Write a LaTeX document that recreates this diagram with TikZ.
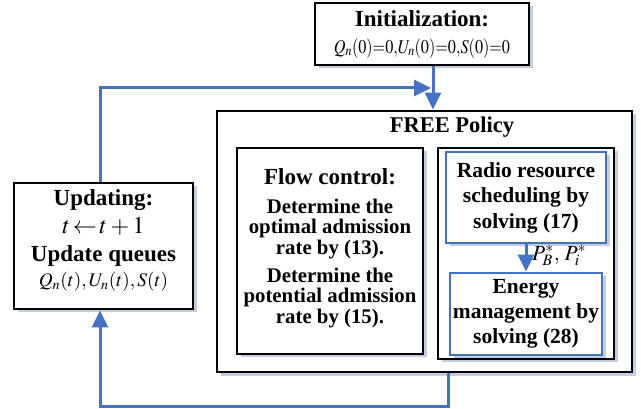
\documentclass[tikz,border=0pt]{standalone}
\usepackage{mathptmx}
\usepackage{fontspec}
\setmainfont{Liberation Serif}
\usetikzlibrary{arrows.meta,shadows}
\definecolor{flowblue}{RGB}{68,114,196}
\definecolor{shadowc}{RGB}{196,204,224}
\begin{document}
\begin{tikzpicture}[x=1pt,y=-1pt,
  shadowed/.style={drop shadow={shadow xshift=3.5pt,shadow yshift=-3.5pt,fill=shadowc,opacity=1}},
  blackbox/.style={draw=black,line width=2.8pt,fill=white,inner sep=0pt,align=center,shadowed},
  bluebox/.style={draw=flowblue,line width=2.8pt,fill=white,inner sep=0pt,align=center,shadowed},
  conn/.style={draw=flowblue,line width=3pt,-{Triangle[width=16pt,length=17pt]}},
  headfont/.style={font=\bfseries\fontsize{23}{28}\selectfont},
]
\useasboundingbox (0,0) rectangle (641,409);

% Initialization
\node[blackbox,headfont,minimum width=214pt,minimum height=62pt] (init) at (422,34)
  {Initialization:\\[-1pt]{\fontsize{19.5}{24}\selectfont\scalebox{0.83}[1]{$Q_n(0){=}0,\!U_n(0){=}0,\!S(0){=}0$}}};

% Updating
\node[blackbox,minimum width=179pt,minimum height=126pt] (upd) at (103.5,246) {};
\node[headfont,align=center,inner sep=0pt] (updtext) at (103.5,240.5)
  {Updating:\\{\fontsize{24}{28}\selectfont $t\!\leftarrow\! t+1$}\\Update queues\\[-3pt]{\fontsize{19.2}{24}\selectfont $Q_n(t),U_n(t),S(t)$}};

% FREE policy outer box
\node[blackbox,minimum width=415pt,minimum height=261pt] (free) at (424.5,241.5) {};
\node[font=\bfseries\fontsize{22.5}{26}\selectfont] (freelabel) at (452,127) {FREE Policy};

% Flow control
\node[blackbox,minimum width=186pt,minimum height=206pt] (flow) at (330,251) {};
\node[align=center,inner sep=0pt,font=\bfseries\fontsize{20.8}{20.6}\selectfont] (flowtext) at (330,248)
  {{\fontsize{23}{26}\selectfont Flow control:}\\[8.5pt]Determine the\\optimal admission\\rate by (13).\\[7pt]Determine the\\potential admission\\rate by (15).};

% Right inner box
\node[blackbox,minimum width=176pt,minimum height=211pt] (right) at (526,253.5) {};

% Radio resource scheduling
\node[bluebox,minimum width=160pt,minimum height=91pt,font=\bfseries\fontsize{21.5}{25.5}\selectfont] (radio) at (526,197.5)
  {Radio resource\\scheduling by\\solving (17)};

% Energy management
\node[bluebox,minimum width=152pt,minimum height=82pt,font=\bfseries\fontsize{21.5}{25}\selectfont] (energy) at (526,314)
  {Energy\\management by\\solving (28)};

\node[anchor=west,inner sep=0pt,font=\fontsize{21.5}{24}\selectfont] (plabel) at (532,255.5) {$P_B^*,\,P_i^*$};

% Connectors
\draw[conn] ([xshift=11pt]init.south) -- ([xshift=11pt]init.south |- free.north);
\coordinate (loopin) at (431,88);
\draw[conn] ([xshift=-3.5pt]upd.north) |- (loopin);
\draw[conn] ([xshift=23.5pt]free.south) -- ++(0,33) -| ([xshift=-3.5pt]upd.south);
\draw[conn] (radio.south) -- (energy.north);
\end{tikzpicture}
\end{document}
